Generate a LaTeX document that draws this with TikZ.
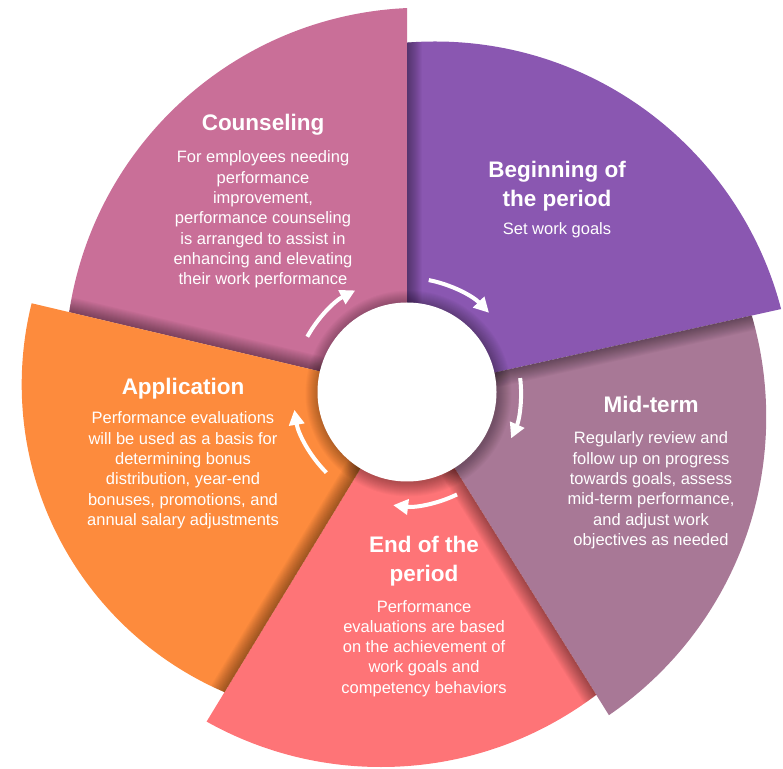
\documentclass[tikz,border=0pt]{standalone}
\usepackage{fontspec}
\setmainfont{Liberation Sans}
\usetikzlibrary{calc,arrows.meta}

\definecolor{cCoun}{HTML}{C96F98}
\definecolor{cBeg}{HTML}{8A57B1}
\definecolor{cMid}{HTML}{A87896}
\definecolor{cEnd}{HTML}{FE7477}
\definecolor{cApp}{HTML}{FD8B3D}

% one ring segment: start angle, end angle, colour, centre and radius of its
% outer arc; the neighbour on the end-angle side casts a soft shadow onto it
\newcommand\ringsector[5]{%
  \begin{scope}
    \clip (C) -- ($(C)+(#1:900)$) -- ($(C)+({(#1+#2)/2}:900)$) -- ($(C)+(#2:900)$) -- cycle;
    \clip #4 circle (#5);
    \fill[#3] (C) circle (500);
    \foreach \w in {2,4,...,30}
      \draw[black, opacity=0.028, line width=\w pt] (C) -- ($(C)+(#2:420)$);
  \end{scope}}

\begin{document}
\begin{tikzpicture}[x=1pt,y=1pt,
  % multi-line labels are placed by the baseline of their last line
  title/.style={text=white, font=\fontsize{22.5}{29}\selectfont\bfseries,
    align=center, inner sep=0pt, anchor=base},
  body/.style={text=white, font=\fontsize{16.5}{20.3}\selectfont,
    align=center, inner sep=0pt, anchor=base},
  cyc/.style={white, line width=4pt, -{Triangle[length=15pt,width=15pt]}}]
\useasboundingbox (0,0) rectangle (783,768);
\coordinate (C) at (407,376);

% ring segments
\ringsector{90}{166.7}{cCoun}{(423.2,402.3)}{358}
\ringsector{12.5}{90}{cBeg}{(435,369)}{357.5}
\ringsector{-58}{12.5}{cMid}{(405.2,350.9)}{361}
\ringsector{-121.3}{-58}{cEnd}{(381,358)}{357}
\ringsector{166.7}{238.7}{cApp}{(356.3,383.5)}{334.6}

% shadow around the hub
\coordinate (S) at (408.5,374.5);
\foreach \w in {2,4,...,28}
  \draw[black, opacity=0.025, line width=\w pt] (S) circle (89);
\fill[white] (C) circle (89.5) node (hub) {};

% cycle arrows
\foreach \a/\b in {79/44, 7/-24, -64/-97, -135/-171, 151/117}
  \draw[cyc] ($(C)+(\a:114)$) arc[start angle=\a, end angle=\b, radius=114];

% labels
\node[title] (tCoun) at (263,637) {Counseling};
\node[body] (bCoun) at (263,483.2) {For employees needing\\performance\\improvement,\\performance counseling\\is arranged to assist in\\enhancing and elevating\\their work performance};

\node[title] (tBeg) at (557,561) {Beginning of\\the period};
\node[body] (bBeg) at (557,533) {Set work goals};

\node[title] (tMid) at (651,355) {Mid-term};
\node[body] (bMid) at (651,222.5) {Regularly review and\\follow up on progress\\towards goals, assess\\mid-term performance,\\and adjust work\\objectives as needed};

\node[title] (tEnd) at (424,186) {End of the\\period};
\node[body] (bEnd) at (424,74.8) {Performance\\evaluations are based\\on the achievement of\\work goals and\\competency behaviors};

\node[title] (tApp) at (183,373) {Application};
\node[body] (bApp) at (183,242.5) {Performance evaluations\\will be used as a basis for\\determining bonus\\distribution, year-end\\bonuses, promotions, and\\annual salary adjustments};
\end{tikzpicture}
\end{document}
